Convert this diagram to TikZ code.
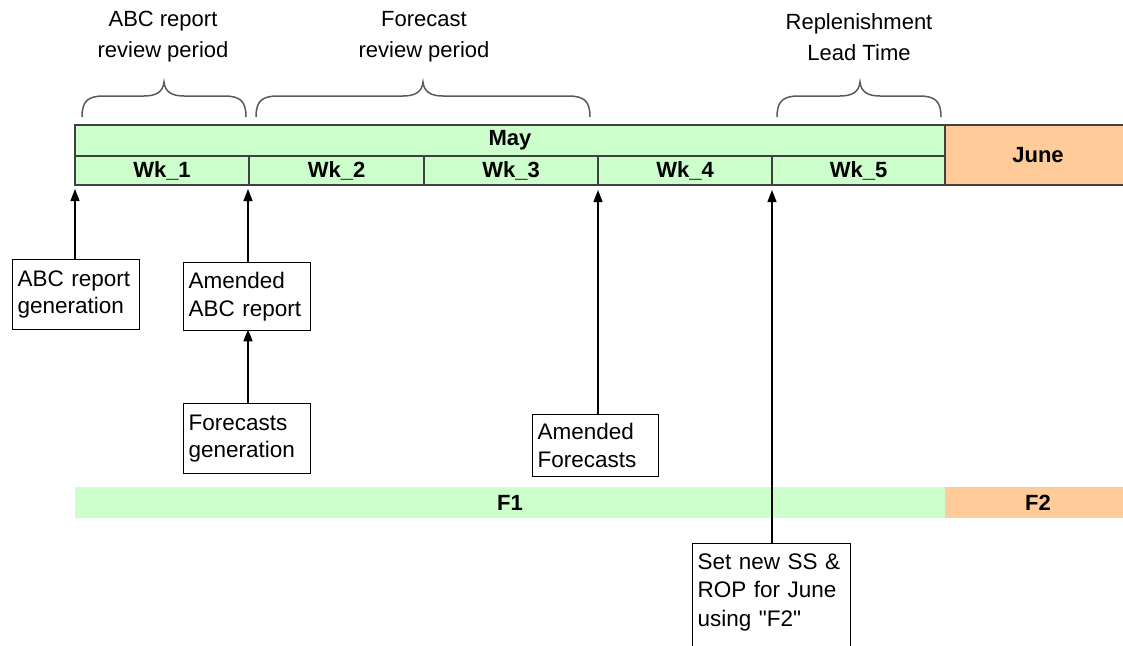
\documentclass[tikz,border=0pt]{standalone}
\usepackage{fontspec}
\setmainfont{Liberation Sans}[Ligatures=TeXOff]
\usetikzlibrary{arrows.meta}
\definecolor{maygreen}{HTML}{CCFFCC}
\definecolor{juneorange}{HTML}{FFCC99}
\definecolor{rimgray}{HTML}{404040}
\definecolor{bracegray}{HTML}{5A5A5A}
\begin{document}
\begin{tikzpicture}[x=1pt,y=-1pt,
  cell/.style={draw=rimgray,line width=1.3pt,fill=maygreen,inner sep=0pt,
    font=\fontsize{22}{26}\selectfont\bfseries},
  bar/.style={fill=maygreen,inner sep=0pt,minimum height=31pt,
    font=\fontsize{22}{26}\selectfont\bfseries},
  note/.style={draw=black,line width=1.3pt,fill=white,anchor=north west,
    align=left,inner xsep=5pt,inner ysep=0pt,
    font=\fontsize{22.5}{27.5}\selectfont},
  period/.style={align=center,font=\fontsize{22}{31}\selectfont},
  pointer/.style={line width=1.3pt,-{Triangle[width=9pt,length=12pt]}},
  bracepath/.style={draw=bracegray,line width=1.5pt}
]
\useasboundingbox (0,0) rectangle (1123,645);
\clip (0,0) rectangle (1123,645);

% month header and week cells
\node[cell,minimum width=870pt,minimum height=31pt] (may) at (510,140.5) {May};
\node[cell,minimum width=174pt,minimum height=29pt] (wk1) at (162,170.5) {Wk\_1};
\node[cell,minimum width=175pt,minimum height=29pt] (wk2) at (336.5,170.5) {Wk\_2};
\node[cell,minimum width=174pt,minimum height=29pt] (wk3) at (511,170.5) {Wk\_3};
\node[cell,minimum width=174pt,minimum height=29pt] (wk4) at (685,170.5) {Wk\_4};
\node[cell,minimum width=173pt,minimum height=29pt] (wk5) at (858.5,170.5) {Wk\_5};
\node[cell,fill=juneorange,minimum width=186pt,minimum height=60pt] (june) at (1038,155) {June};

% forecast bars
\node[bar,minimum width=870pt] (f1) at (510,502.5) {F1};
\node[bar,fill=juneorange,minimum width=186pt] (f2) at (1038,502.5) {F2};

% braces over the periods
\foreach \a/\t/\b in {82/164/246, 256/423/590, 777/860/941}{
  \draw[bracepath] (\a,117) .. controls (\a,101) and (\a+6,96) .. (\a+22,96)
    -- (\t-20,96) .. controls (\t-8,96) and (\t-1,92) .. (\t,82)
    .. controls (\t+1,92) and (\t+8,96) .. (\t+20,96)
    -- (\b-22,96) .. controls (\b-6,96) and (\b,101) .. (\b,117);
}
\node[period] (p1) at (163,37) {ABC report\\review period};
\node[period] (p2) at (424,37) {Forecast\\review period};
\node[period] (p3) at (859,37) {Replenishment\\Lead Time};

% event boxes
\node[note,text width=117pt,minimum height=70pt] (abcgen) at (12,259) {ABC report\\generation};
\node[note,text width=117pt,minimum height=68pt] (abcam) at (183,262) {Amended\\ABC report};
\node[note,text width=117pt,minimum height=70pt] (fcgen) at (183,403) {Forecasts\\generation};
\node[note,text width=116pt,minimum height=62pt] (fcam) at (532,414) {Amended\\Forecasts};
\node[note,text width=148pt,inner ysep=10pt,font=\fontsize{22.5}{28.5}\selectfont] (ssrop) at (692,543)
  {Set new SS \&\\ROP for June\\using "F2"\\\strut\\\strut};

% points on the time axis
\coordinate (t0) at (75,189);
\coordinate (t1) at (248,189);
\coordinate (t3) at (598,190);
\coordinate (t4) at (772,190);

\draw[pointer] (abcgen.north -| t0) -- (t0);
\draw[pointer] (abcam.north -| t1) -- (t1);
\draw[pointer] (fcgen.north -| t1) -- ([yshift=2pt]abcam.south -| t1);
\draw[pointer] (fcam.north -| t3) -- (t3);
\draw[pointer] (ssrop.north -| t4) -- (t4);
\end{tikzpicture}
\end{document}
